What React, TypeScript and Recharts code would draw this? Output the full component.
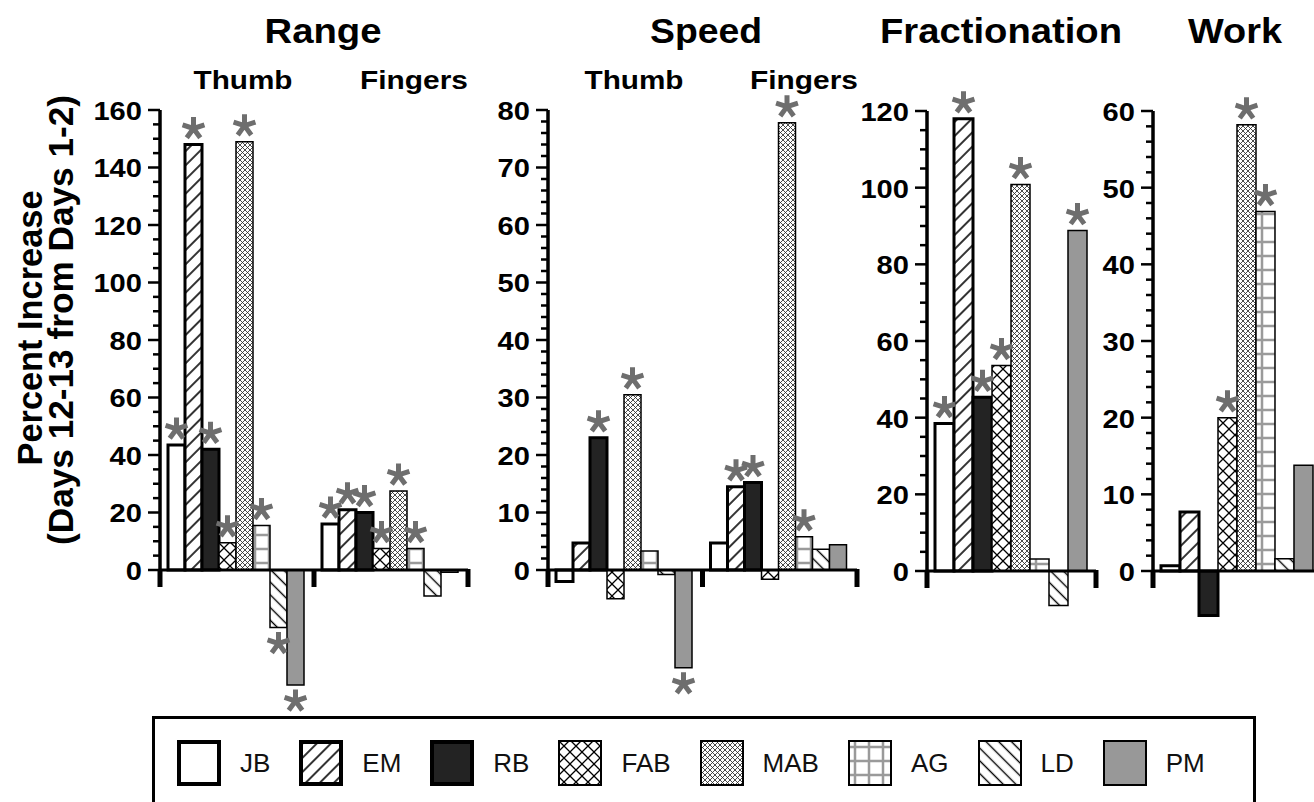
import React from "react";
import { BarChart, Bar, XAxis, YAxis, ReferenceLine, LabelList } from "recharts";

const subjects = ["JB", "EM", "RB", "FAB", "MAB", "AG", "LD", "PM"];

// Range, % increase days 12-13 vs days 1-2
const rangeGroups = ["Thumb", "Fingers"];
const rangeThumb = [43.5, 148, 42, 9.5, 149, 15.5, -20, -40];
const rangeFingers = [16, 21, 20, 7.5, 27.5, 7.5, -9, -0.8];
const rangeThumbSig = [true, true, true, true, true, true, true, true];
const rangeFingersSig = [true, true, true, true, true, true, false, false];
const rangeTicks = [0, 20, 40, 60, 80, 100, 120, 140, 160];

// Speed
const speedGroups = ["Thumb", "Fingers"];
const speedThumb = [-2, 4.7, 23, -5, 30.5, 3.3, -0.8, -17];
const speedFingers = [4.7, 14.5, 15.2, -1.6, 77.8, 5.8, 3.6, 4.4];
const speedThumbSig = [false, false, true, false, true, false, false, true];
const speedFingersSig = [false, true, true, false, true, true, false, false];
const speedTicks = [0, 10, 20, 30, 40, 50, 60, 70, 80];

// Fractionation
const fracGroups = ["Fractionation"];
const fracValues = [38.5, 118, 45.3, 53.6, 100.8, 3.1, -9, 88.8];
const fracSig = [true, true, true, true, true, false, false, true];
const fracTicks = [0, 20, 40, 60, 80, 100, 120];

// Work
const workGroups = ["Work"];
const workValues = [0.7, 7.7, -5.8, 20, 58.2, 46.9, 1.6, 13.8];
const workSig = [false, false, false, true, true, true, false, false];
const workTicks = [0, 10, 20, 30, 40, 50, 60];

const FONT = "'Liberation Sans', Arial, Helvetica, sans-serif";

const fills: Record<string, string> = {
  JB: "#ffffff",
  EM: "url(#pEM)",
  RB: "#232323",
  FAB: "url(#pFAB)",
  MAB: "url(#pMAB)",
  AG: "url(#pAG)",
  LD: "url(#pLD)",
  PM: "#989898",
};
const heavy = ["JB", "EM", "RB"];

function makeRows(groups: string[], values: number[][], sig: boolean[][]) {
  return groups.map((g, gi) => {
    const row: Record<string, any> = { group: g };
    subjects.forEach((s, si) => {
      const v = values[gi][si];
      row[s] = v;
      row[s + "_star"] = sig[gi][si] ? (v >= 0 ? 1 : -1) : 0;
    });
    return row;
  });
}

function Star({ cx, cy }: { cx: number; cy: number }) {
  const r = 11.5;
  const d = [0, 72, 144, 216, 288]
    .map((a) => {
      const rad = ((a - 90) * Math.PI) / 180;
      return `M${cx},${cy}L${cx + r * Math.cos(rad)},${cy + r * Math.sin(rad)}`;
    })
    .join("");
  return <path d={d} stroke="#6e6e6e" strokeWidth={5} fill="none" />;
}

const renderStar = (props: any) => {
  const vb = props.viewBox || props;
  const { x, y, width, height } = vb;
  const dir = props.value;
  if (!dir) return null;
  const top = Math.min(y, y + height);
  const bottom = Math.max(y, y + height);
  const cx = x + width / 2;
  return <Star cx={cx} cy={dir > 0 ? top - 16 : bottom + 16} />;
};

const endTick = (p: any) => (
  <line x1={p.x1} y1={p.y1 - 1} x2={p.x1} y2={p.y1 + 17} stroke="#000" strokeWidth={5} />
);

const Y_W = 80;
const M_TOP = 30;
const M_BOT = 35;
const M_RIGHT = 10;

type PanelProps = {
  rows: Record<string, any>[];
  axisX: number;
  endX: number;
  topY: number;
  zeroY: number;
  min: number;
  majorTicks: number[];
  minorStep: number;
};

function Panel(p: PanelProps) {
  const max = p.majorTicks[p.majorTicks.length - 1];
  const ppu = (p.zeroY - p.topY) / max;
  const bottomY = p.zeroY - p.min * ppu;
  const width = Y_W + (p.endX - p.axisX) + M_RIGHT;
  const height = M_TOP + (bottomY - p.topY) + M_BOT;
  const ticks: number[] = [];
  for (let v = 0; v <= max + 1e-9; v += p.minorStep) ticks.push(Math.round(v * 100) / 100);
  const groups = p.rows.map((r) => r.group);
  const last = groups[groups.length - 1];

  const tick = (t: any) => {
    const { x, y, payload } = t;
    const v = payload.value;
    const major = p.majorTicks.includes(v);
    return (
      <g>
        <line x1={x - (major ? 12 : 7)} x2={x} y1={y} y2={y} stroke="#000" strokeWidth={2.5} />
        {major && (
          <text
            x={0}
            y={1}
            transform={`translate(${x - 18},${y}) scale(1.12,1)`}
            textAnchor="end"
            dominantBaseline="central"
            fontFamily={FONT}
            fontWeight="bold"
            fontSize={26}
            fill="#000"
          >
            {v}
          </text>
        )}
      </g>
    );
  };

  return (
    <div style={{ position: "absolute", left: p.axisX - Y_W, top: p.topY - M_TOP }}>
      <BarChart
        width={width}
        height={height}
        data={p.rows}
        margin={{ top: M_TOP, right: M_RIGHT, bottom: M_BOT, left: 0 }}
        barCategoryGap={8}
        barGap={0}
      >
        <XAxis dataKey="group" hide />
        <YAxis
          width={Y_W}
          domain={[p.min, max]}
          ticks={ticks}
          interval={0}
          tickSize={0}
          tickMargin={0}
          axisLine={false}
          tickLine={false}
          tick={tick}
        />
        {subjects.map((s) => (
          <Bar
            key={s}
            dataKey={s}
            fill={fills[s]}
            stroke="#000"
            strokeWidth={heavy.includes(s) ? 3 : 1.5}
            isAnimationActive={false}
          >
            <LabelList dataKey={s + "_star"} content={renderStar} />
          </Bar>
        ))}
        <ReferenceLine y={0} stroke="#000" strokeWidth={3} />
        <ReferenceLine
          segment={[
            { x: groups[0], y: 0 },
            { x: groups[0], y: max },
          ]}
          position="start"
          stroke="#000"
          strokeWidth={3.5}
        />
        {groups.map((g) => (
          <ReferenceLine
            key={g}
            segment={[
              { x: g, y: 0 },
              { x: g, y: 0 },
            ]}
            position="start"
            shape={endTick}
          />
        ))}
        <ReferenceLine
          segment={[
            { x: last, y: 0 },
            { x: last, y: 0 },
          ]}
          position="end"
          shape={endTick}
        />
      </BarChart>
    </div>
  );
}

function Patterns() {
  return (
    <svg width={0} height={0} style={{ position: "absolute" }}>
      <defs>
        <pattern id="pEM" patternUnits="userSpaceOnUse" width={10} height={10} patternTransform="rotate(45)">
          <rect width={10} height={10} fill="#fff" />
          <line x1={5} y1={0} x2={5} y2={10} stroke="#000" strokeWidth={1.6} />
        </pattern>
        <pattern id="pLD" patternUnits="userSpaceOnUse" width={9} height={9} patternTransform="rotate(-45)">
          <rect width={9} height={9} fill="#fff" />
          <line x1={4.5} y1={0} x2={4.5} y2={9} stroke="#000" strokeWidth={1.4} />
        </pattern>
        <pattern id="pFAB" patternUnits="userSpaceOnUse" width={12} height={12}>
          <rect width={12} height={12} fill="#fff" />
          <path d="M0,0L12,12M12,0L0,12" stroke="#000" strokeWidth={1.3} />
        </pattern>
        <pattern id="pMAB" patternUnits="userSpaceOnUse" width={5} height={5}>
          <rect width={5} height={5} fill="#fff" />
          <path d="M0,0L5,5M5,0L0,5" stroke="#2a2a2a" strokeWidth={0.85} />
        </pattern>
        <pattern id="pAG" patternUnits="userSpaceOnUse" width={14} height={14}>
          <rect width={14} height={14} fill="#fff" />
          <path d="M7,0L7,14M0,7L14,7" stroke="#9a9a9a" strokeWidth={2.5} />
        </pattern>
      </defs>
    </svg>
  );
}

function Texts() {
  const t = (x: number, y: number, s: string, size: number, len: number) => (
    <text
      x={x}
      y={y}
      textAnchor="middle"
      fontFamily={FONT}
      fontWeight="bold"
      fontSize={size}
      textLength={len}
      lengthAdjust="spacingAndGlyphs"
    >
      {s}
    </text>
  );
  return (
    <svg width={1314} height={802} style={{ position: "absolute", left: 0, top: 0 }}>
      {t(323, 43, "Range", 35, 117)}
      {t(706, 43, "Speed", 35, 112)}
      {t(1001, 43, "Fractionation", 35, 242)}
      {t(1235, 43, "Work", 35, 94)}
      {t(243, 89, "Thumb", 26, 99)}
      {t(414, 89, "Fingers", 26, 108)}
      {t(634, 89, "Thumb", 26, 99)}
      {t(804, 89, "Fingers", 26, 108)}
      <text
        transform="translate(42,328) rotate(-90)"
        textAnchor="middle"
        fontFamily={FONT}
        fontWeight="bold"
        fontSize={35}
        textLength={275}
        lengthAdjust="spacingAndGlyphs"
      >
        Percent Increase
      </text>
      <text
        transform="translate(73,320) rotate(-90)"
        textAnchor="middle"
        fontFamily={FONT}
        fontWeight="bold"
        fontSize={35}
        textLength={450}
        lengthAdjust="spacingAndGlyphs"
      >
        (Days 12-13 from Days 1-2)
      </text>
    </svg>
  );
}

function LegendBox() {
  return (
    <div
      style={{
        position: "absolute",
        left: 152,
        top: 716,
        width: 1104,
        height: 120,
        border: "3px solid #000",
        boxSizing: "border-box",
        display: "flex",
        alignItems: "flex-start",
        paddingLeft: 22,
        paddingTop: 21,
        fontFamily: FONT,
      }}
    >
      {subjects.map((s) => {
        const sw = heavy.includes(s) ? 4 : 2;
        return (
          <div key={s} style={{ display: "flex", alignItems: "center", marginRight: 29 }}>
            <svg width={44} height={46}>
              <rect
                x={sw / 2}
                y={sw / 2}
                width={44 - sw}
                height={46 - sw}
                fill={fills[s]}
                stroke="#000"
                strokeWidth={sw}
              />
            </svg>
            <span style={{ marginLeft: 19, fontSize: 26, color: "#111" }}>{s}</span>
          </div>
        );
      })}
    </div>
  );
}

export default function App() {
  const rangeRows = makeRows(rangeGroups, [rangeThumb, rangeFingers], [rangeThumbSig, rangeFingersSig]);
  const speedRows = makeRows(speedGroups, [speedThumb, speedFingers], [speedThumbSig, speedFingersSig]);
  const fracRows = makeRows(fracGroups, [fracValues], [fracSig]);
  const workRows = makeRows(workGroups, [workValues], [workSig]);
  return (
    <div
      style={{
        position: "absolute",
        left: 0,
        top: 0,
        width: 1314,
        height: 802,
        overflow: "hidden",
        background: "#fff",
      }}
    >
      <Patterns />
      <Texts />
      <Panel rows={rangeRows} axisX={160} endX={468} topY={110} zeroY={570} min={-45} majorTicks={rangeTicks} minorStep={5} />
      <Panel rows={speedRows} axisX={548} endX={857} topY={110} zeroY={570} min={-20} majorTicks={speedTicks} minorStep={2} />
      <Panel rows={fracRows} axisX={927} endX={1096} topY={111} zeroY={571} min={-12} majorTicks={fracTicks} minorStep={5} />
      <Panel rows={workRows} axisX={1153} endX={1323} topY={111} zeroY={571} min={-8} majorTicks={workTicks} minorStep={2} />
      <LegendBox />
    </div>
  );
}
